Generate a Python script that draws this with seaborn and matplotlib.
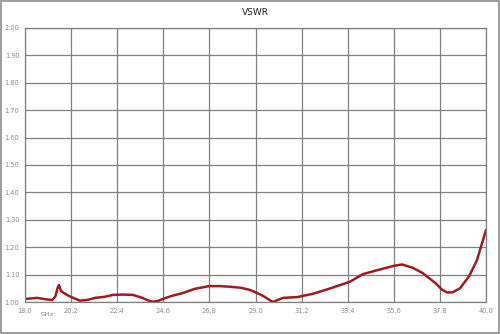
import matplotlib
matplotlib.use("Agg")
import matplotlib.pyplot as plt
import numpy as np
import pandas as pd
import seaborn as sns

# VSWR sweep
freq_ghz = [18.0, 18.57, 19.0, 19.29, 19.45, 19.55, 19.62, 19.72, 19.85, 20.15,
            20.62, 21.0, 21.34, 21.8, 22.2, 22.7, 23.15, 23.6, 23.9, 24.11, 24.35, 24.6,
            25.0, 25.54, 26.1, 26.78, 27.3, 27.73, 28.3, 28.74, 29.3, 29.83,
            30.31, 31.0, 31.74, 32.5, 33.51, 34.13, 35.0, 35.6, 35.99, 36.5, 36.99,
            37.6, 37.9, 38.14, 38.4, 38.76, 39.2, 39.57, 40.0]
vswr = [1.011, 1.015, 1.010, 1.007, 1.020, 1.050, 1.062, 1.040, 1.033, 1.020,
        1.005, 1.008, 1.015, 1.019, 1.026, 1.027, 1.026, 1.015, 1.005, 1.001, 1.004, 1.012,
        1.022, 1.033, 1.048, 1.058, 1.058, 1.056, 1.052, 1.044, 1.025, 1.000,
        1.015, 1.018, 1.030, 1.048, 1.074, 1.102, 1.120, 1.132, 1.137, 1.125, 1.105,
        1.068, 1.045, 1.035, 1.035, 1.050, 1.095, 1.153, 1.263]
x_ticks = [18.0, 20.2, 22.4, 24.6, 26.8, 29.0, 31.2, 33.4, 35.6, 37.8, 40.0]
y_ticks = [1.0, 1.1, 1.2, 1.3, 1.4, 1.5, 1.6, 1.7, 1.8, 1.9, 2.0]

df = pd.DataFrame({"freq": freq_ghz, "vswr": vswr})

sns.set_theme(style="white")
plt.rcParams["font.family"] = ["DejaVu Sans"]

fig = plt.figure(figsize=(5, 3.34), dpi=100)
ax = fig.add_axes([0.05, 0.0958, 0.922, 0.8204])

sns.lineplot(data=df, x="freq", y="vswr", ax=ax, color="#9e1c21", linewidth=1.8)

ax.set_xlim(18.0, 40.0)
ax.set_ylim(1.0, 2.0)
ax.set_xticks(x_ticks)
ax.set_yticks(y_ticks)
ax.set_xticklabels([f"{t:.1f}" for t in x_ticks])
ax.set_yticklabels([f"{t:.2f}" for t in y_ticks])
ax.tick_params(axis="both", labelsize=4.8, colors="#8a8a8a", length=0, pad=4)
ax.grid(True, color="#808080", linewidth=0.9)
for sp in ax.spines.values():
    sp.set_color("#808080")
    sp.set_linewidth(0.9)
ax.set_xlabel("")
ax.set_ylabel("")
ax.set_title("VSWR", fontsize=6.5, color="#222222", pad=9)

fig.text(0.094, 0.055, "GHz", fontsize=4.5, color="#7f7f7f", ha="center")

# grey frame round the whole chart
fig.patches.append(plt.Rectangle((0.002, 0.003), 0.996, 0.994, transform=fig.transFigure,
                                 fill=False, edgecolor="#8c8c8c", linewidth=1.2))

fig.savefig("out.png", dpi=100)
